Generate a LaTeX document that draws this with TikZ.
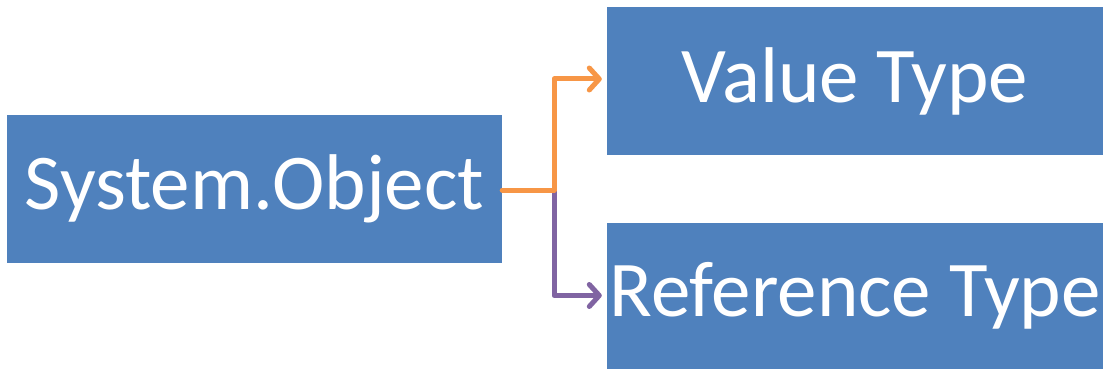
\documentclass[tikz,border=0pt]{standalone}
\usepackage{fontspec}
\setmainfont{Carlito}
\usetikzlibrary{arrows.meta}
\definecolor{boxblue}{HTML}{4F81BD}
\definecolor{linkorange}{HTML}{F79646}
\definecolor{linkpurple}{HTML}{8064A2}
\tikzset{
  typebox/.style={fill=boxblue, draw=none, inner sep=0pt, minimum width=496pt,
    minimum height=147pt, text=white, font=\fontsize{79}{82}\selectfont},
  link/.style={line width=5pt, line cap=round, line join=round,
    -{Straight Barb[length=10pt,width=22pt,line cap=round,line join=round]}, shorten >=5pt}
}
\begin{document}
\begin{tikzpicture}[x=1pt,y=1pt]
  \useasboundingbox (0,0) rectangle (1110,370);
  \node[typebox, minimum width=495pt, minimum height=148pt] (obj) at (254.5,181) {System.Object};
  \node[typebox, minimum height=148pt] (val) at (855,289) {Value Type};
  \node[typebox, minimum height=146pt] (ref) at (855,74.5) {Reference Type};
  \coordinate (fork) at (554,180);
  \draw[link, draw=linkpurple] (fork) |- (ref.west);
  \draw[link, draw=linkorange] (obj.east |- fork) -- (fork) |- ([yshift=2pt]val.west);
\end{tikzpicture}
\end{document}
